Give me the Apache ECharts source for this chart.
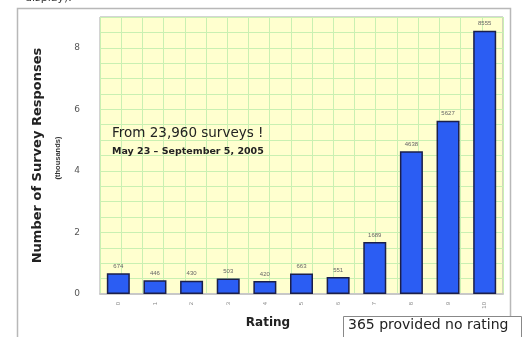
<!DOCTYPE html>
<html>
<head>
<meta charset="utf-8">
<script src="https://cdn.jsdelivr.net/npm/echarts@6/dist/echarts.min.js"></script>
<style>
  html, body { margin: 0; padding: 0; background: #fff; }
  #chart { width: 527px; height: 337px; }
</style>
</head>
<body>
<div id="chart"></div>
<script>
  // ratings 0..10 and response counts
  var ratings = ['0', '1', '2', '3', '4', '5', '6', '7', '8', '9', '10'];
  var counts = [674, 446, 430, 503, 420, 663, 551, 1689, 4638, 5627, 8555];
  var yTicks = [0, 2, 4, 6, 8];

  var chart = echarts.init(document.getElementById('chart'));
  var font = 'DejaVu Sans, Verdana, sans-serif';
  var small = 'Liberation Sans, Arial, sans-serif';

  var option = {
    animation: false,
    grid: {
      left: 100, right: 24, top: 17, bottom: 43,
      show: true,
      backgroundColor: '#ffffcf',
      borderColor: '#a8a8a8',
      borderWidth: 1
    },
    xAxis: [{
      type: 'category',
      data: ratings,
      axisLine: { show: true, lineStyle: { color: '#c8c8c8', width: 2 } },
      axisTick: { show: false },
      axisLabel: {
        rotate: 90, fontSize: 6, color: '#888', margin: 8, fontFamily: small
      }
    }, {
      // only provides the fine vertical grid of the plot background
      type: 'value',
      position: 'top',
      min: 0, max: 19, interval: 1,
      axisLine: { show: false },
      axisTick: { show: false },
      axisLabel: { show: false },
      splitLine: { show: true, lineStyle: { color: '#c9f0b2', width: 1 } }
    }],
    yAxis: {
      type: 'value',
      min: 0, max: 9, interval: 0.5,
      axisLine: { show: false },
      axisTick: { show: false },
      splitLine: { show: true, lineStyle: { color: '#c9f0b2', width: 1 } },
      axisLabel: {
        color: '#555', fontSize: 9, margin: 20, fontFamily: font,
        formatter: function (v) { return yTicks.indexOf(v) >= 0 ? String(v) : ''; }
      },
      name: 'Number of Survey Responses',
      nameLocation: 'middle',
      nameGap: 56,
      nameTextStyle: { fontSize: 13, fontWeight: 'bold', color: '#222', fontFamily: font }
    },
    series: [{
      type: 'bar',
      xAxisIndex: 0,
      barWidth: 23,
      data: counts.map(function (c) { return c / 1000; }),
      itemStyle: { color: '#2b5df3', borderColor: '#1b1f4a', borderWidth: 1.5 },
      label: {
        show: true, position: 'top', distance: 4,
        fontSize: 6, color: '#666', fontFamily: small,
        formatter: function (p) { return counts[p.dataIndex]; }
      }
    }],
    graphic: [
      {
        type: 'rect', silent: true, z: -10,
        shape: { x: 17.5, y: 8.5, width: 493, height: 340 },
        style: { fill: 'none', stroke: '#b8b8b8', lineWidth: 1.5 }
      },
      {
        type: 'text', left: 25, top: -7, z: 100,
        style: { text: 'display).', fontSize: 11, fill: '#333', fontFamily: font }
      },
      {
        type: 'text', x: 58, y: 158, rotation: Math.PI / 2, z: 100,
        style: {
          text: '(thousands)', fontSize: 7.5, fontWeight: 'bold', fill: '#333',
          fontFamily: small, align: 'center', verticalAlign: 'middle'
        }
      },
      {
        type: 'text', x: 268, y: 323, z: 100,
        style: {
          text: 'Rating', fontSize: 12, fontWeight: 'bold', fill: '#222',
          fontFamily: font, align: 'center', verticalAlign: 'middle'
        }
      },
      {
        type: 'text', left: 112, top: 126, z: 100,
        style: { text: 'From 23,960 surveys !', fontSize: 13.5, fill: '#222', fontFamily: font }
      },
      {
        type: 'text', left: 112, top: 147, z: 100,
        style: {
          text: 'May 23 \u2013 September 5, 2005', fontSize: 9.5, fontWeight: 'bold',
          fill: '#222', fontFamily: font
        }
      },
      {
        type: 'rect', silent: true, z: 100,
        shape: { x: 343.5, y: 316.5, width: 178, height: 26 },
        style: { fill: '#fff', stroke: '#888', lineWidth: 1 }
      },
      {
        type: 'text', left: 348, top: 318, z: 101,
        style: { text: '365 provided no rating', fontSize: 14, fill: '#222', fontFamily: font }
      }
    ]
  };

  chart.setOption(option);
</script>
</body>
</html>
